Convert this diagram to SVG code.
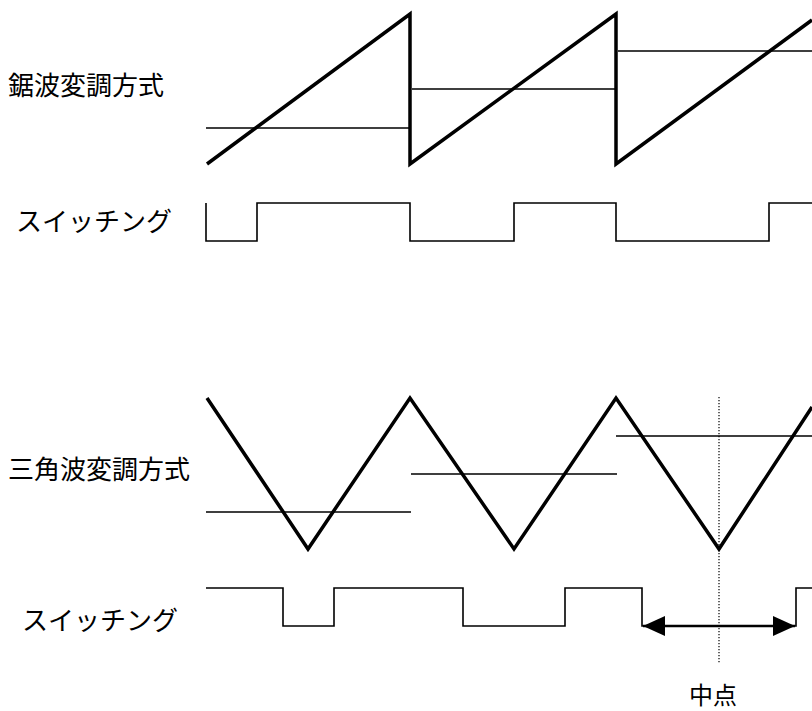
<svg xmlns="http://www.w3.org/2000/svg" width="812" height="711" viewBox="0 0 812 711">
<style>
.lbl{font-family:"Noto Sans CJK JP","Noto Sans CJK SC",sans-serif;font-size:26px;fill:#000}
.wave{fill:none;stroke:#000;stroke-width:3.5;stroke-linejoin:miter}
.ref{fill:none;stroke:#000;stroke-width:1.6}
.sw{fill:none;stroke:#000;stroke-width:1.6}
.dot{fill:none;stroke:#000;stroke-width:1.2;stroke-dasharray:1.2 1.8}
.arr{fill:none;stroke:#000;stroke-width:2.6}
</style>
<defs>
<marker id="ah" viewBox="0 0 22 20" refX="22" refY="10" markerWidth="22" markerHeight="20" markerUnits="userSpaceOnUse" orient="auto-start-reverse">
<path d="M0,0 L22,10 L0,20 Z" fill="#000"/>
</marker>
</defs>
<rect width="812" height="711" fill="#fff"/>
<g id="labels">
<text class="lbl" x="8" y="95">鋸波変調方式</text>
<text class="lbl" x="16" y="231">スイッチング</text>
<text class="lbl" x="8" y="479">三角波変調方式</text>
<text class="lbl" x="22" y="630">スイッチング</text>
<text class="lbl" x="713" y="704" text-anchor="middle" style="font-size:24px">中点</text>
</g>
<g id="sawtooth">
<path class="ref" d="M206,128 H410 M412,89 H615 M618,51 H812"/>
<path class="wave" d="M207,164 L410,14 V164 L616,14 V164 L812,20"/>
</g>
<g id="sawtooth-switching">
<path class="sw" d="M206,203 V241 H257 V203 H410 V241 H514 V203 H616 V241 H769 V203 H812"/>
</g>
<g id="triangle">
<path class="ref" d="M206,512 H411 M411,474 H617 M616,436 H812"/>
<path class="wave" d="M207,398 L308,549 L410,398 L514,549 L616,398 L719,549 L812,407"/>
</g>
<g id="triangle-switching">
<path class="sw" d="M206,588 H283 V626 H334 V588 H463 V626 H565 V588 H642 V626 H796 V588 H812"/>
</g>
<g id="connectors">
<line class="dot" x1="719" y1="397" x2="719" y2="663"/>
<line class="arr" x1="643" y1="626" x2="795" y2="626" marker-start="url(#ah)" marker-end="url(#ah)"/>
</g>
</svg>
